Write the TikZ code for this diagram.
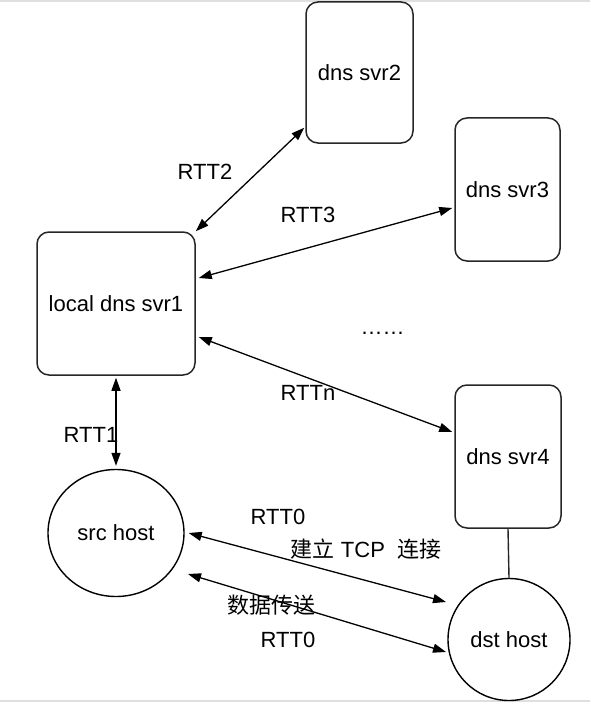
\documentclass[tikz,border=0pt]{standalone}
\usepackage{fontspec}
\setmainfont{Liberation Sans}
\newfontfamily\cjk{Noto Sans CJK SC}
\usetikzlibrary{arrows.meta,shapes.geometric}

\tikzset{
  svrbox/.style={draw=black!85, line width=1.5pt, rounded corners=12pt, align=center},
  hostnode/.style={draw=black, line width=1.4pt},
  rtt/.style={{Triangle[length=13pt,width=9pt]}-{Triangle[length=13pt,width=9pt]}, line width=1.3pt},
  lbl/.style={inner sep=0pt}
}

\begin{document}
\begin{tikzpicture}[x=1pt,y=1pt,font=\fontsize{22}{26}\selectfont]
\useasboundingbox (0,0) rectangle (590,-706);
\draw[gray!25, line width=1.2pt] (0,-1) -- (590,-1);
\draw[gray!25, line width=1.2pt] (0,-701) -- (590,-701);

% servers
\node[svrbox, minimum width=107pt, minimum height=141pt] (svr2) at (359.5,-72.5) {dns svr2};
\node[svrbox, minimum width=105pt, minimum height=143pt] (svr3) at (507.5,-189.5) {dns svr3};
\node[svrbox, minimum width=158pt, minimum height=143pt] (svr1) at (116,-303.5) {local dns svr1};
\node[svrbox, minimum width=106pt, minimum height=143pt] (svr4) at (508,-456.5) {dns svr4};

% hosts
\node[hostnode, ellipse, minimum width=136pt, minimum height=127pt] (src) at (116,-533) {src host};
\node[hostnode, circle, minimum size=122pt] (dst) at (509,-639.5) {dst host};

% links
\draw[rtt] (svr1.north east) -- ([yshift=16pt,xshift=-1pt]svr2.south west);
\draw[rtt] ([yshift=25.5pt,xshift=3pt]svr1.east) -- ([yshift=-18.5pt,xshift=-2pt]svr3.west);
\draw[rtt] ([yshift=-33.5pt,xshift=3pt]svr1.east) -- ([yshift=24.5pt,xshift=-2pt]svr4.west);
\draw[rtt, shorten <=2pt, shorten >=3pt] (svr1.south) -- (src.north);
\draw[rtt] ([xshift=4pt]src.east) -- ([shift={(-63pt,37.5pt)}]dst.center);
\draw[rtt] ([shift={(72pt,-41pt)}]src.center) -- ([shift={(-63pt,-12.5pt)}]dst.center);
\draw[black!85, line width=1.4pt] (svr4.south) -- (dst.north);

% labels
\node[lbl] (l2) at (205,-172) {RTT2};
\node[lbl] (l3) at (308,-215) {RTT3};
\node[lbl] (ln) at (308,-393) {RTTn};
\node[lbl] (l1) at (91,-435) {RTT1};
\node[lbl] (l0a) at (278,-517) {RTT0};
\node[lbl] (tcp) at (366,-549) {{\cjk 建立} TCP\ \ {\cjk 连接}};
\node[lbl] (data) at (271,-605) {\cjk 数据传送};
\node[lbl] (l0b) at (288,-640) {RTT0};
\node[lbl, anchor=base] (dots) at (382.5,-334) {……};
\end{tikzpicture}
\end{document}
